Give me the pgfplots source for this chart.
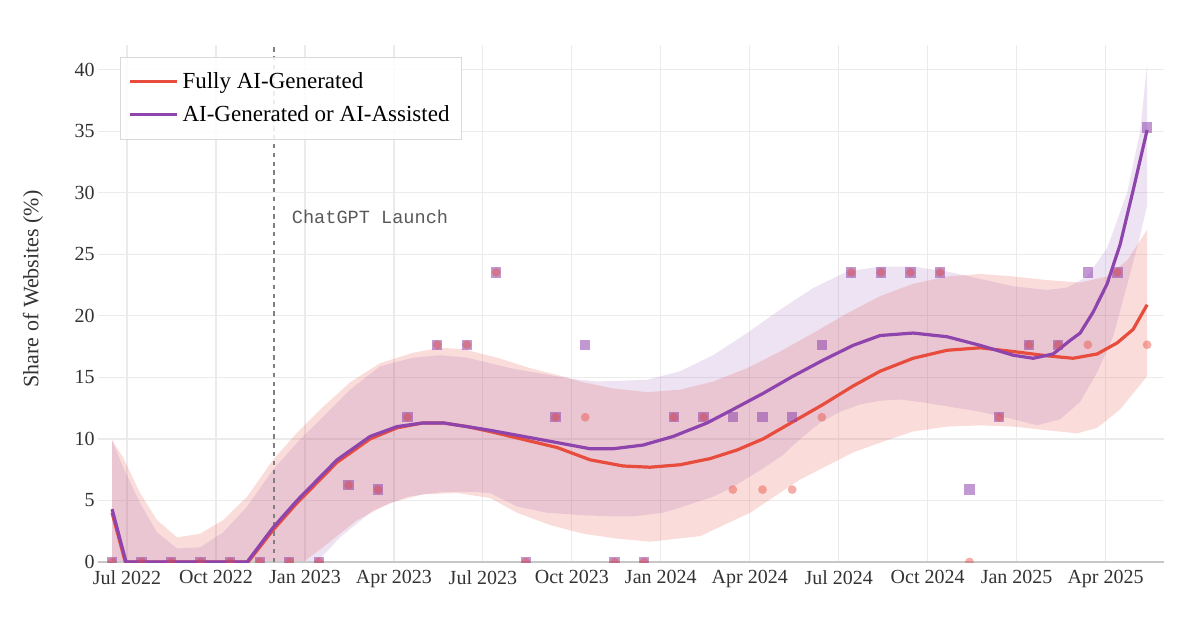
\documentclass[border=0pt]{standalone}
\usepackage{fontspec}
\setmainfont{Liberation Serif}
\newfontfamily\monofont{Liberation Mono}
\usepackage{pgfplots}
\pgfplotsset{compat=1.18}
\definecolor{redl}{HTML}{E74C3C}
\definecolor{purl}{HTML}{8E44AD}
\definecolor{gridc}{RGB}{235,235,235}
\begin{document}
\begin{tikzpicture}
\path[use as bounding box] (0,0) rectangle (600pt,316pt);
\begin{axis}[
 at={(49pt,35pt)}, anchor=south west,
 scale only axis, width=533pt, height=258.5pt,
 xmin=-0.98, xmax=34.97, ymin=0, ymax=42,
 axis line style={draw=none},
 major tick length=0pt,
 clip marker paths=true,
 xtick={0,3,...,33},
 xticklabels={Jul 2022, Oct 2022, Jan 2023, Apr 2023, Jul 2023, Oct 2023, Jan 2024, Apr 2024, Jul 2024, Oct 2024, Jan 2025, Apr 2025},
 ytick={0,5,...,40},
 grid=major, grid style={gridc, line width=0.6pt},
 tick label style={font=\fontsize{10}{12}\selectfont, text=black!80},
 /pgf/number format/assume math mode=true,
 xticklabel style={anchor=north, inner sep=0pt, yshift=-4pt},
 yticklabel style={anchor=east, inner sep=0pt, xshift=-1.5pt},
 ylabel={Share of Websites (\%)},
 ylabel style={at={(axis description cs:-0.061,0.528)}, anchor=center, font=\fontsize{11}{13}\selectfont, text=black!80},
 legend style={at={(0.0206,0.977)}, anchor=north west, draw=black!15, fill=white, fill opacity=0.85, text opacity=1,
   font=\fontsize{11.5}{13}\selectfont, inner xsep=4pt, inner ysep=5.5pt, row sep=3pt, cells={anchor=west}},
 legend image code/.code={\draw[#1] (0pt,0pt) -- (23.5pt,0pt);},
 legend cell align=left,
]
% bands
\addplot[draw=none, fill=redl, fill opacity=0.19, forget plot] coordinates {
(-0.506,9.9) (-0.135,8.5) (0.438,5.6) (1.012,3.4) (1.686,2.0) (2.462,2.3) (3.238,3.4) (4.047,5.3) (4.924,8.3) (5.734,10.5) (6.610,12.6) (7.521,14.6) (8.533,16.15) (9.646,17.0) (10.557,17.4) (11.332,17.3) (12.479,16.6) (13.592,15.75) (14.705,15.07) (15.278,14.66) (16.391,14.1) (17.538,13.8) (18.651,14.0) (19.764,14.66) (20.911,15.75) (22.024,17.1) (23.137,18.6) (24.283,20.2) (25.396,21.6) (26.509,22.6) (27.656,23.2) (28.769,23.4) (29.882,23.2) (31.029,22.9) (32.142,22.7) (33.052,23.2) (33.727,24.5) (34.401,27.0)
(34.401,15.1) (33.491,12.4) (32.715,10.9) (32.040,10.45) (31.029,10.7) (29.882,11.0) (28.769,11.1) (27.656,11.0) (26.509,10.6) (25.632,9.9) (24.486,8.9) (22.698,6.7) (21.012,4.0) (19.326,2.1) (17.639,1.65) (16.526,1.9) (15.379,2.3) (14.266,3.0) (13.153,4.0) (12.243,5.2) (11.130,5.6) (9.983,5.5) (8.870,4.8) (7.757,3.4) (6.610,1.2) (5.94,0) (-0.506,0)
} -- cycle;
\addplot[draw=none, fill=purl, fill opacity=0.15, forget plot] coordinates {
(-0.506,9.9) (-0.135,7.7) (0.438,4.8) (1.012,2.4) (1.686,1.1) (2.462,1.2) (3.238,2.4) (4.047,4.5) (4.924,7.5) (5.734,9.7) (6.610,11.8) (7.521,14.0) (8.533,15.9) (9.646,16.6) (10.557,16.8) (11.467,16.6) (13.019,15.7) (14.941,14.9) (15.852,14.66) (17.538,14.8) (18.651,15.5) (19.764,16.8) (20.911,18.6) (22.024,20.5) (23.137,22.25) (24.283,23.6) (25.396,24.0) (26.509,24.0) (27.656,23.6) (28.769,23.0) (29.882,22.4) (31.029,22.1) (31.703,22.3) (32.378,23.2) (33.052,25.5) (33.727,30.0) (34.165,35.0) (34.401,40.5)
(34.401,29.0) (34.165,26.5) (33.727,22.5) (33.255,18.3) (32.715,15.4) (32.142,13.0) (31.467,11.6) (30.691,11.1) (29.882,11.6) (28.769,12.2) (27.757,12.6) (26.745,13.0) (26.071,13.2) (25.396,13.1) (24.722,12.8) (24.047,12.2) (23.373,11.3) (22.698,10.0) (22.125,8.7) (21.450,7.6) (20.438,6.1) (19.764,5.3) (18.752,4.5) (18.078,4.0) (17.066,3.7) (16.391,3.7) (15.379,3.8) (14.165,4.0) (13.153,4.5) (12.243,5.6) (11.669,5.7) (10.658,5.7) (9.444,5.3) (8.297,4.2) (7.184,2.0) (6.408,0) (-0.506,0)
} -- cycle;
% zero line
\addplot[black!22, line width=1pt, forget plot] coordinates {(-0.98,0) (34.97,0)};
% ChatGPT launch
\addplot[black!50, line width=1pt, dash pattern=on 2.2pt off 2.2pt, forget plot] coordinates {(4.97,0) (4.97,42)};
\node[anchor=west, font=\monofont\fontsize{9.3}{11}\selectfont, text=black!65] at (axis cs:5.32,28.05) {ChatGPT Launch};
% fitted lines
\addplot[redl, line width=1.6pt] coordinates {
(-0.506,4.0) (-0.06,0) (4.081,0) (4.924,2.6) (5.734,4.8) (7.083,8.1) (8.196,10.0) (9.106,10.9) (9.983,11.3) (10.658,11.3) (11.467,11.0) (12.243,10.6) (14.503,9.3) (15.616,8.3) (16.729,7.8) (17.639,7.7) (18.651,7.9) (19.663,8.4) (20.573,9.1) (21.450,10.0) (22.462,11.4) (23.474,12.8) (24.486,14.3) (25.396,15.5) (26.509,16.55) (27.656,17.2) (28.769,17.4) (29.882,17.1) (31.029,16.75) (31.905,16.55) (32.715,16.9) (33.390,17.8) (33.929,18.9) (34.401,20.9)
};
\addlegendentry{Fully AI-Generated}
\addplot[purl, line width=1.6pt] coordinates {
(-0.506,4.3) (-0.034,0) (4.047,0) (4.924,2.8) (5.734,5.0) (7.083,8.3) (8.196,10.2) (9.106,11.0) (9.983,11.3) (10.658,11.3) (11.467,11.0) (12.243,10.7) (14.503,9.7) (15.616,9.2) (16.391,9.2) (17.403,9.5) (18.415,10.2) (19.562,11.3) (20.438,12.4) (21.450,13.7) (22.462,15.1) (23.474,16.4) (24.486,17.6) (25.396,18.4) (26.509,18.6) (27.656,18.3) (28.769,17.6) (29.882,16.8) (30.556,16.55) (31.231,16.9) (31.804,18.0) (32.142,18.6) (32.580,20.3) (33.052,22.6) (33.491,25.8) (33.929,30.2) (34.401,35.1)
};
\addlegendentry{AI-Generated or AI-Assisted}
% monthly observations
\addplot[only marks, color=purl, mark=square*, mark size=2.6pt, mark options={draw=purl, fill=purl, draw opacity=0, fill opacity=0.55}, forget plot] coordinates {
(-0.51,0) (0.49,0) (1.49,0) (2.48,0) (3.48,0) (4.48,0) (5.47,0) (6.47,0) (7.47,6.25) (8.47,5.88) (9.46,11.76) (10.46,17.65) (11.46,17.65) (12.45,23.53) (13.45,0) (14.45,11.76) (15.45,17.65) (16.44,0) (17.44,0) (18.44,11.76) (19.44,11.76) (20.43,11.76) (21.43,11.76) (22.43,11.76) (23.43,17.65) (24.42,23.53) (25.42,23.53) (26.42,23.53) (27.42,23.53) (28.41,5.88) (29.41,11.76) (30.41,17.65) (31.40,17.65) (32.40,23.53) (33.40,23.53) (34.40,35.29)
};
\addplot[only marks, color=redl, mark=*, mark size=2.2pt, mark options={draw=redl, fill=redl, draw opacity=0, fill opacity=0.45}, forget plot] coordinates {
(-0.51,0) (0.49,0) (1.49,0) (2.48,0) (3.48,0) (4.48,0) (5.47,0) (6.47,0) (7.47,6.25) (8.47,5.88) (9.46,11.76) (10.46,17.65) (11.46,17.65) (12.45,23.53) (13.45,0) (14.45,11.76) (15.45,11.76) (16.44,0) (17.44,0) (18.44,11.76) (19.44,11.76) (20.43,5.88) (21.43,5.88) (22.43,5.88) (23.43,11.76) (24.42,23.53) (25.42,23.53) (26.42,23.53) (27.42,23.53) (28.41,0) (29.41,11.76) (30.41,17.65) (31.40,17.65) (32.40,17.65) (33.40,23.53) (34.40,17.65)
};
\end{axis}
\end{tikzpicture}
\end{document}
